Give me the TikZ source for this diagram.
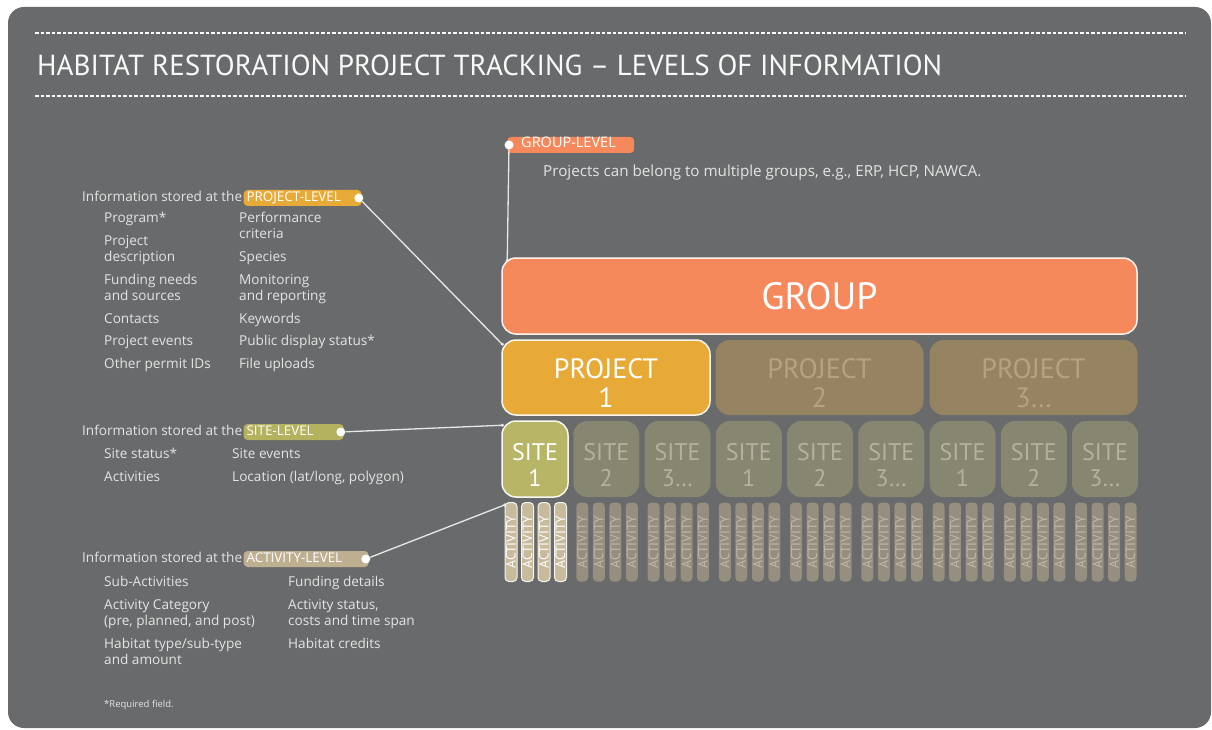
\documentclass[tikz,border=0pt]{standalone}
\usepackage{fontspec}
\setmainfont{Open Sans}
\newfontfamily\narrowfont{PT Sans}
\usetikzlibrary{positioning}
\definecolor{panelgray}{RGB}{104,106,107}
\definecolor{textgray}{RGB}{228,228,228}
\definecolor{linegray}{RGB}{232,232,232}
\definecolor{grouporange}{RGB}{246,137,92}
\definecolor{projyellow}{RGB}{232,170,55}
\definecolor{projdim}{RGB}{150,131,98}
\definecolor{projdimtext}{RGB}{180,162,130}
\definecolor{siteolive}{RGB}{183,181,102}
\definecolor{sitedim}{RGB}{135,134,113}
\definecolor{sitedimtext}{RGB}{180,178,158}
\definecolor{acttan}{RGB}{200,187,157}
\definecolor{actdim}{RGB}{150,142,126}
\definecolor{actdimtext}{RGB}{192,185,170}
\definecolor{sitebadge}{RGB}{180,178,95}
\definecolor{actbadge}{RGB}{191,175,145}

\begin{document}
\begin{tikzpicture}[
        x=1pt, y=-1pt,
        title/.style={anchor=west, inner sep=0pt, text=white!95!gray, font=\narrowfont\fontsize{29}{31}\selectfont},
        heading/.style={anchor=base west, inner sep=0pt, text=textgray, font=\fontsize{13.6}{16}\selectfont},
        infotext/.style={anchor=north west, inner sep=0pt, align=left, text=textgray, font=\fontsize{13.6}{16}\selectfont},
        badge/.style={rectangle, rounded corners=4pt, inner xsep=3pt, inner ysep=2pt, text height=9pt, text depth=3pt, align=left, text=white, font=\fontsize{13.4}{15}\selectfont},
        tipdot/.style={circle, fill=white, inner sep=0pt, minimum size=9pt},
        enddot/.style={circle, fill=linegray, inner sep=0pt, minimum size=3.5pt},
        leader/.style={linegray, line width=1.3pt},
        rule/.style={white, line width=1.1pt, dash pattern=on 3.5pt off 2pt},
        boxlabel/.style={align=center, inner sep=0pt, yshift=-6pt},
        groupbox/.style={rectangle, rounded corners=14pt, draw=white!90!grouporange, line width=1.5pt, fill=grouporange, minimum width=635pt, minimum height=76pt, text=white, font=\narrowfont\fontsize{38}{38}\selectfont},
        projbox/.style={rectangle, rounded corners=14pt, draw=white!90!projyellow, line width=1.5pt, fill=projyellow, minimum width=208pt, minimum height=75pt,
            label={[boxlabel, text=white, font=\narrowfont\fontsize{28}{29}\selectfont]center:#1}},
        projdimbox/.style={rectangle, rounded corners=14pt, fill=projdim, minimum width=208pt, minimum height=75pt,
            label={[boxlabel, text=projdimtext, font=\narrowfont\fontsize{28}{29}\selectfont]center:#1}},
        sitebox/.style={rectangle, rounded corners=14pt, draw=white!90!siteolive, line width=1.5pt, fill=siteolive, minimum width=66pt, minimum height=76pt,
            label={[boxlabel, text=white, font=\narrowfont\fontsize{24}{26}\selectfont]center:#1}},
        sitedimbox/.style={rectangle, rounded corners=14pt, fill=sitedim, minimum width=66pt, minimum height=76pt,
            label={[boxlabel, text=sitedimtext, font=\narrowfont\fontsize{24}{26}\selectfont]center:#1}},
        actbar/.style={rectangle, rounded corners=4pt, draw=white!85!acttan, line width=1pt, fill=acttan, minimum width=79pt, minimum height=12pt, inner sep=0pt, rotate=90, text=white, font=\narrowfont\fontsize{13.5}{13.5}\selectfont},
        actdimbar/.style={actbar, draw=none, fill=actdim, text=actdimtext}
    ]

    % Background panel
    \useasboundingbox (0,0) rectangle (1212,730);
    \fill[white] (0,0) rectangle (1212,730);
    \fill[panelgray, rounded corners=16pt] (8,7) rectangle (1211,728);

    % Title between dotted rules
    \draw[rule] (35,33) -- (1185,33);
    \draw[rule] (35,96) -- (1185,96);
    \node[title] (maintitle) at (37,65) {HABITAT RESTORATION PROJECT TRACKING – LEVELS OF INFORMATION};

    % Group level
    \node[badge, fill=grouporange, text width=121pt, anchor=west, font=\fontsize{14.5}{15}\selectfont] (grpbadge) at (507,145) {\hspace*{11pt}GROUP-LEVEL};
    \node[tipdot] (grptip) at ([xshift=2pt]grpbadge.west) {};
    \node[heading, font=\fontsize{15.2}{17}\selectfont] (grpnote) at (543,177) {Projects can belong to multiple groups, e.g., ERP, HCP, NAWCA.};

    % Project level
    \node[heading] (projhead) at (82,201) {Information stored at the};
    \node[badge, fill=projyellow, text width=112pt, base right=1pt of projhead] (projbadge) {PROJECT-LEVEL};
    \node[tipdot] (projtip) at ([xshift=-3pt]projbadge.east) {};
    \node[infotext] (projcola) at (104,212) {Program*\\[7pt] Project\\ description\\[7pt] Funding needs\\ and sources\\[7pt] Contacts\\[6pt] Project events\\[7pt] Other permit IDs};
    \node[infotext] (projcolb) at (239,212) {Performance\\ criteria\\[7pt] Species\\[7pt] Monitoring\\ and reporting\\[7pt] Keywords\\[6pt] Public display status*\\[7pt] File uploads};

    % Site level
    \node[heading] (sitehead) at (82,435) {Information stored at the};
    \node[badge, fill=sitebadge, text width=94pt, base right=1pt of sitehead] (sitebadge) {SITE-LEVEL};
    \node[tipdot] (sitetip) at ([xshift=-3pt]sitebadge.east) {};
    \node[infotext] (sitecola) at (104,448) {Site status*\\[7pt] Activities};
    \node[infotext] (sitecolb) at (232,448) {Site events\\[7pt] Location (lat/long, polygon)};

    % Activity level
    \node[heading] (acthead) at (82,562) {Information stored at the};
    \node[badge, fill=actbadge, text width=119pt, base right=1pt of acthead] (actbadge) {ACTIVITY-LEVEL};
    \node[tipdot] (acttip) at ([xshift=-3pt]actbadge.east) {};
    \node[infotext] (actcola) at (104,576) {Sub-Activities\\[7pt] Activity Category\\ (pre, planned, and post)\\[7pt] Habitat type/sub-type\\ and amount};
    \node[infotext] (actcolb) at (288,576) {Funding details\\[7pt] Activity status,\\ costs and time span\\[7pt] Habitat credits};
    \node[heading, font=\fontsize{9.5}{11}\selectfont] (reqnote) at (104,707) {*Required field.};

    % Hierarchy boxes
    \node[groupbox] (group) at (819.5,296) {GROUP};
    \node[projbox={PROJECT\\1}] (proj1) at (606,377.5) {};
    \node[projdimbox={PROJECT\\2}] (proj2) at (819.5,377.5) {};
    \node[projdimbox={PROJECT\\3…}] (proj3) at (1033.5,377.5) {};

    \node[sitebox={SITE\\1}] (site0) at (535,459) {};
    \foreach \s/\lbl in {1/2, 2/3…, 3/1, 4/2, 5/3…, 6/1, 7/2, 8/3…}
        \node[sitedimbox={SITE\\\lbl}] (site\s) at ({535+71.25*\s},459) {};

    \foreach \a in {0,...,3}
        \node[actbar] (act0-\a) at ({511+16.5*\a},542) {ACTIVITY};
    \foreach \s in {1,...,8}
        \foreach \a in {0,...,3}
            \node[actdimbar] (act\s-\a) at ({511+71.25*\s+16.5*\a},542) {ACTIVITY};

    % Leader lines
    \coordinate (grpedge) at ([xshift=6pt, yshift=-3pt]group.north west);
    \coordinate (projedge) at ([xshift=1pt, yshift=-5pt]proj1.north west);
    \coordinate (siteedge) at ([xshift=1pt, yshift=-5pt]site0.north west);
    \coordinate (actedge) at ([xshift=0pt, yshift=-3pt]act0-0.north east);
    \draw[leader] (grptip) -- (grpedge);
    \draw[leader] (projtip) -- (projedge);
    \draw[leader] (sitetip) -- (siteedge);
    \draw[leader] (acttip) -- (actedge);
    \node[enddot] at (grpedge) {};
    \node[enddot] at (projedge) {};
    \node[enddot] at (siteedge) {};
    \node[enddot] at (actedge) {};

\end{tikzpicture}
\end{document}
